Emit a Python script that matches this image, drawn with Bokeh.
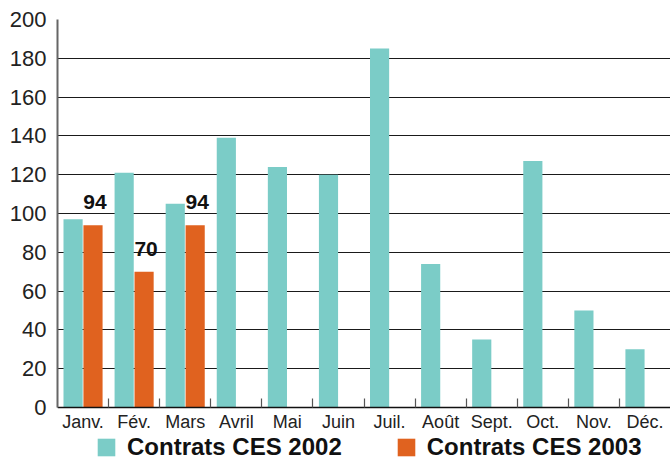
from bokeh.plotting import figure
from bokeh.models import Range1d, FixedTicker, Legend, LegendItem, ColumnDataSource
from bokeh.core.properties import value
from bokeh.embed import file_html
from bokeh.resources import INLINE

months = ["Janv.", "Fév.", "Mars", "Avril", "Mai", "Juin", "Juil.", "Août", "Sept.", "Oct.", "Nov.", "Déc."]
ces_2002 = [97, 121, 105, 139, 124, 120, 185, 74, 35, 127, 50, 30]
ces_2003 = [94, 70, 94]
series_names = ["Contrats CES 2002", "Contrats CES 2003"]
y_ticks = [0, 20, 40, 60, 80, 100, 120, 140, 160, 180, 200]

TEAL = "#7BCCC7"
ORANGE = "#E0621F"
FONT = "Liberation Sans"

W, H = 670, 465
TOP, LEFT = 19, 57
AXIS_Y = 407            # pixel row of the value 0
Y_MAX = 200
px_per_unit = (AXIS_Y - TOP) / Y_MAX
y_start = -(H - AXIS_Y) / px_per_unit   # room under the axis for labels + legend

n = len(months)
centers = [i + 0.5 for i in range(n)]
dodge = 0.195
bar_w = 0.375

src02 = ColumnDataSource(dict(x=[c - dodge for c in centers], top=ces_2002))
src03 = ColumnDataSource(dict(x=[c + dodge for c in centers[:len(ces_2003)]], top=ces_2003,
                              label=[str(v) for v in ces_2003]))

p = figure(width=W, height=H, output_backend="svg", toolbar_location=None,
           x_range=Range1d(0, n), y_range=Range1d(y_start, Y_MAX),
           min_border_left=LEFT, min_border_right=0, min_border_top=TOP, min_border_bottom=0)
p.outline_line_color = None
p.background_fill_color = "white"

p.xgrid.grid_line_color = None
p.ygrid.grid_line_color = "#1a1a1a"
p.ygrid.grid_line_width = 1
p.ygrid.ticker = FixedTicker(ticks=y_ticks)

r02 = p.vbar(x="x", top="top", bottom=0, width=bar_w, source=src02, fill_color=TEAL, line_color=None)
r03 = p.vbar(x="x", top="top", bottom=0, width=bar_w, source=src03, fill_color=ORANGE, line_color=None)

p.text(x="x", y="top", text="label", source=src03, x_offset=2, y_offset=-23,
       text_align="center", text_baseline="alphabetic", text_font_size="21px",
       text_font_style="bold", text_color="#111111", text_font=value(FONT))

# x axis, pinned at value 0
xa = p.xaxis[0]
xa.fixed_location = 0
xa.ticker = FixedTicker(ticks=centers, minor_ticks=list(range(1, n)))
xa.major_label_overrides = {c: m for c, m in zip(centers, months)}
xa.major_tick_line_color = None
xa.major_tick_in = 0
xa.major_tick_out = 0
xa.minor_tick_in = 9
xa.minor_tick_out = 0
xa.minor_tick_line_color = "#555555"
xa.minor_tick_line_width = 1.2
xa.axis_line_color = "#111111"
xa.axis_line_width = 1.6
xa.major_label_text_font = FONT
xa.major_label_text_font_size = "18px"
xa.major_label_text_color = "#222222"
xa.major_label_standoff = 4

# y axis
ya = p.yaxis[0]
ya.ticker = FixedTicker(ticks=y_ticks)
ya.bounds = (0, Y_MAX)
ya.major_tick_line_color = None
ya.major_tick_in = 0
ya.major_tick_out = 0
ya.minor_tick_line_color = None
ya.axis_line_color = "#666666"
ya.axis_line_width = 2
ya.major_label_text_font = FONT
ya.major_label_text_font_size = "22px"
ya.major_label_text_color = "#222222"
ya.major_label_standoff = 11

legend = Legend(items=[LegendItem(label=series_names[0], renderers=[r02]),
                       LegendItem(label=series_names[1], renderers=[r03])],
                orientation="horizontal", location=(38, 4))
legend.glyph_width = 22
legend.glyph_height = 22
legend.label_standoff = 10
legend.spacing = 53
legend.padding = 0
legend.margin = 0
legend.border_line_color = None
legend.background_fill_alpha = 0
legend.label_text_font = FONT
legend.label_text_font_size = "24px"
legend.label_text_font_style = "bold"
legend.label_text_color = "#111111"
p.add_layout(legend)

open("out.html", "w").write(file_html(p, INLINE))
